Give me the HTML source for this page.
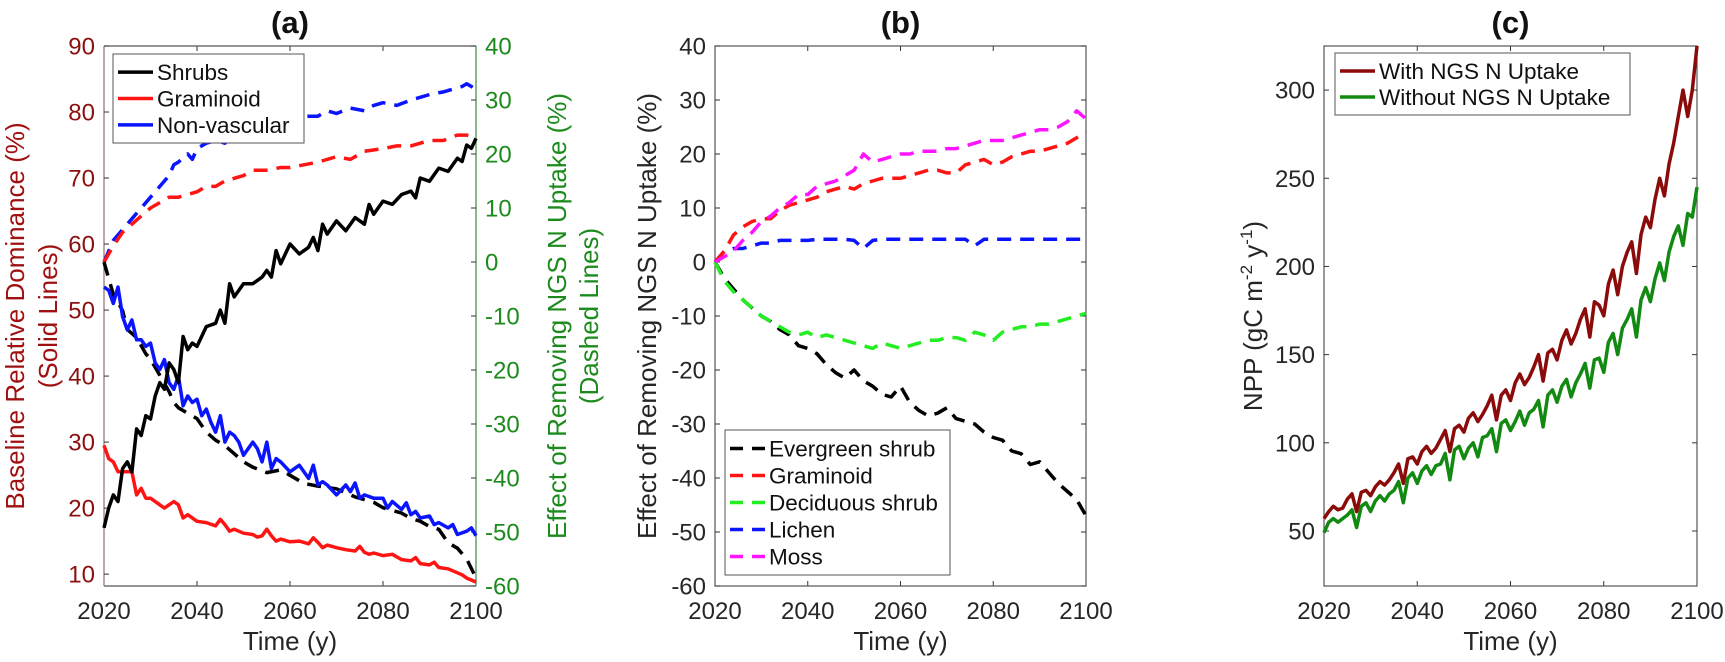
<!DOCTYPE html>
<html><head><meta charset="utf-8">
<style>
html,body{margin:0;padding:0;background:#fff;}
svg{display:block;font-family:"Liberation Sans",Arial,sans-serif;}
</style></head>
<body>
<svg id="fig" width="1725" height="662" viewBox="0 0 1725 662" xmlns="http://www.w3.org/2000/svg"></svg>
<script>
// ---------- data ----------
const xTicks = [2020, 2040, 2060, 2080, 2100];
const aLeftTicks = [10, 20, 30, 40, 50, 60, 70, 80, 90];
const pctTicks = [-60, -50, -40, -30, -20, -10, 0, 10, 20, 30, 40];
const cTicks = [50, 100, 150, 200, 250, 300];

// panel a solid (left axis)
const shrubsYears = [2020,2021,2022,2023,2024,2025,2026,2027,2028,2029,2030,2031,2032,2033,2034,2035,2036,2037,2038,2039,2040,2042,2044,2045,2046,2047,2048,2050,2052,2054,2055,2056,2057,2058,2060,2062,2064,2065,2066,2067,2068,2070,2072,2074,2076,2077,2078,2080,2082,2084,2086,2087,2088,2090,2092,2094,2096,2097,2098,2099,2100];
const shrubsVals = [17,20,22,21,26,27,25.5,32,31,34,33.5,37,39,38,42,41,39,46,44,45,44.5,47.5,48,50,48,54,52,54,54,55,56,55,59,57,60,58.5,59.5,61,59,63,61.5,63.5,62,64,63,66,64.5,66.5,66,67.5,68,67,70,69.5,71.5,71,73,72.5,75,74.5,76];
const gramYears = [2020,2021,2022,2023,2024,2025,2026,2027,2028,2029,2030,2032,2033,2034,2035,2036,2037,2038,2040,2042,2044,2045,2046,2047,2048,2050,2052,2053,2054,2055,2056,2057,2058,2060,2062,2064,2065,2066,2067,2068,2070,2072,2074,2075,2076,2077,2078,2080,2082,2084,2086,2087,2088,2090,2091,2092,2094,2096,2097,2098,2100];
const gramVals = [29.5,27.5,27,25.5,25.5,25.5,25.5,22,23,21.5,21.5,20.5,20,20.5,21,20.5,18.5,19,18,17.8,17.3,18.3,17.5,16.5,16.8,16.2,16,15.6,15.8,16.8,15.8,15,15.3,14.9,15,14.6,15.5,14.8,14,14.4,14,13.7,13.5,14.2,13.3,13,13.2,12.8,13,12.2,12,12.5,11.6,11.4,11.8,11,10.8,10.2,9.9,9.4,8.8];
const nvYears = [2020,2021,2022,2023,2024,2025,2026,2027,2028,2029,2030,2031,2032,2033,2034,2035,2036,2037,2038,2039,2040,2041,2042,2043,2044,2045,2046,2047,2048,2049,2050,2052,2053,2054,2055,2056,2057,2058,2060,2062,2064,2065,2066,2067,2068,2070,2072,2073,2074,2075,2076,2078,2080,2081,2082,2084,2085,2086,2087,2088,2090,2091,2092,2094,2095,2096,2098,2099,2100];
const nvVals = [53.5,53,51,53.5,49,47,48.5,45.5,45.5,44.5,45,42,41,42.5,39,38,40,35.5,37,36,36.5,34,35,33,31.5,34,30,31.5,31,30,28,30,29,27,30,26,27.5,27,25.5,26.5,24.5,26.5,23.5,24,23.5,22,23.5,22.5,23.8,21.5,22,21.5,21.5,20,21,19.8,20.8,19,19.5,18.5,18.8,17.5,17.8,17,17.5,16,16.5,17,15.8];

// panel a dashed (right axis, %)
const aShrubDashYears = [2020,2022,2024,2025,2027,2029,2030,2032,2034,2035,2036,2038,2040,2042,2044,2046,2048,2050,2052,2055,2058,2060,2063,2066,2070,2074,2078,2080,2084,2086,2088,2090,2092,2094,2096,2098,2100];
const aShrubDashVals = [0,-6,-9,-12.5,-14,-17,-18,-21,-24,-26,-27,-28,-29,-31.5,-33,-34,-35.5,-37,-38,-39,-38.5,-39.5,-41,-41.5,-42,-43.5,-44.5,-45.5,-46.5,-47.5,-48,-49,-49.5,-52,-53,-55,-58.5];
const aGramDashYears = [2020,2022,2024,2026,2028,2030,2032,2034,2036,2038,2040,2042,2044,2046,2048,2050,2052,2055,2058,2060,2063,2066,2070,2073,2076,2080,2083,2086,2090,2093,2096,2098,2100];
const aGramDashVals = [0,3,5.5,7,8.5,10,11,12,12,12.5,13,14,14,15,15.5,16,17,17,17.5,17.5,18,18.5,19.5,19,20.5,21,21.5,21.5,22.5,22.5,23.5,23.5,23];
const aNvDashYears = [2020,2022,2024,2026,2028,2030,2032,2034,2035,2036,2038,2039,2040,2042,2044,2046,2048,2050,2052,2055,2058,2060,2063,2066,2068,2070,2073,2076,2078,2080,2083,2086,2088,2090,2093,2095,2097,2098,2100];
const aNvDashVals = [0,4,6,8,10,12,14,16,18,18.5,20,19,21,22,22.5,22,23.5,24,25,25.5,26,26.5,27,27,28,27.5,28.5,28,29,29.5,29,30,30.5,31,31.5,32,32.5,33,32];

// panel b (%)
const bYears = [2020,2022,2024,2026,2028,2030,2032,2034,2036,2038,2040,2042,2044,2046,2048,2050,2052,2054,2056,2058,2060,2062,2064,2066,2068,2070,2072,2074,2076,2078,2080,2082,2084,2086,2088,2090,2092,2094,2096,2098,2100];
const evergreenVals = [0,-3,-5,-7,-8.5,-10,-11,-12.5,-13.5,-15.5,-16,-17,-19,-20.5,-21.5,-20,-22,-23,-24.5,-25,-23,-26,-27.5,-28.5,-28,-27,-29,-29.5,-30,-31.5,-32.5,-33,-35,-35.5,-37.5,-37,-39,-41,-42.5,-44,-47];
const graminoidVals = [0,2,5,6.5,7.5,8,8,9.5,10.5,11,11.5,12,13,13.5,14,13.5,14.5,15,15.5,15.5,15.5,16,16.5,17,17,16.5,16.5,18,18.5,19,18,18.5,19.5,20,20.5,20.5,21,21.5,22,23,24];
const deciduousVals = [0,-3.5,-5.5,-7,-8.5,-10,-11,-12,-13,-13.5,-13,-14,-13.5,-14,-14.5,-15,-15.5,-16,-15,-15.5,-16,-15.5,-15,-14.5,-14.5,-14,-14,-14.5,-13,-13.5,-14.5,-13,-12.5,-12,-12,-11.5,-11.5,-11,-10.5,-10,-9.5];
const lichenVals = [0,2,2.5,2.5,3,3.5,3.5,4,4,4,4,4.2,4.2,4.2,4.2,4,2.5,4,4.2,4.2,4.2,4.2,4.2,4.2,4.2,4.2,4.2,4.2,3,4.2,4.2,4.2,4.2,4.2,4.2,4.2,4.2,4.2,4.2,4.2,4.2];
const mossVals = [0,1,2,4,5.5,7.5,8.5,10,11,12.5,12.5,14,14.5,15,16,17,20,18.5,19,19.5,20,20,20.5,20.5,20.5,21,21,21.5,22,22.5,22.5,22.5,23,23.5,24,24.5,24.5,25,26,28,26.5];

// panel c (NPP)
const cYears = [2020,2021,2022,2023,2024,2025,2026,2027,2028,2029,2030,2031,2032,2033,2034,2035,2036,2037,2038,2039,2040,2041,2042,2043,2044,2045,2046,2047,2048,2049,2050,2051,2052,2053,2054,2055,2056,2057,2058,2059,2060,2061,2062,2063,2064,2065,2066,2067,2068,2069,2070,2071,2072,2073,2074,2075,2076,2077,2078,2079,2080,2081,2082,2083,2084,2085,2086,2087,2088,2089,2090,2091,2092,2093,2094,2095,2096,2097,2098,2099,2100];
const withVals = [57,61,64,62,63,68,71,61,72,73,70,75,78,76,79,83,88,77,91,92,88,95,98,94,97,102,107,95,108,110,106,114,117,112,116,121,127,113,127,130,124,134,139,133,137,143,150,135,151,153,147,158,164,156,162,170,176,160,180,178,172,190,198,184,200,208,214,196,218,228,222,238,250,240,258,270,285,300,285,300,325];
const withoutVals = [49,55,57,55,57,59,62,52,64,66,61,67,70,67,71,73,78,66,80,83,77,84,87,82,87,88,94,79,96,98,91,97,100,92,103,104,108,95,111,113,107,112,118,110,117,119,124,109,127,130,123,132,136,126,134,139,145,131,147,148,140,157,162,150,165,170,176,160,181,188,180,193,202,192,208,217,223,212,230,228,245];

// ---------- drawing ----------
const NS = "http://www.w3.org/2000/svg";
const svg = document.getElementById('fig');
function mk(tag, attrs, parent){
  const e = document.createElementNS(NS, tag);
  for (const k in attrs) e.setAttribute(k, attrs[k]);
  (parent||svg).appendChild(e);
  return e;
}
function txt(s, attrs, parent){ const t = mk('text', attrs, parent); t.textContent = s; return t; }

const TOP = 46, BOT = 586;
function linScale(d0, d1, r0, r1){ return v => r0 + (v - d0) * (r1 - r0) / (d1 - d0); }

function drawSeries(g, xs, ys, xS, yS, color, dashed){
  let d = '';
  for (let i = 0; i < xs.length; i++) d += (i ? 'L' : 'M') + xS(xs[i]).toFixed(1) + ',' + yS(ys[i]).toFixed(1);
  return mk('path', {d: d, fill: 'none', stroke: color, 'stroke-width': 3.5, 'stroke-linejoin': 'round', 'stroke-dasharray': dashed ? '14,9' : 'none'}, g);
}

function panel(id, L, R, title){
  const g = mk('g', {});
  
  
  const xS = linScale(2020, 2100, L, R);
  const t = txt(title, {x: (L+R)/2, y: 33, 'text-anchor': 'middle', 'font-size': 31, 'font-weight': 'bold', fill: '#111'}, g);
  
  
  const xt = mk('g', {}, g);
  
  
  xTicks.forEach(v => {
    const x = xS(v);
    mk('line', {x1: x, y1: BOT, x2: x, y2: BOT - 5, stroke: '#333', 'stroke-width': 1}, xt);
    mk('line', {x1: x, y1: TOP, x2: x, y2: TOP + 5, stroke: '#333', 'stroke-width': 1}, xt);
    txt(String(v), {x: x, y: 619, 'text-anchor': 'middle', 'font-size': 24, fill: '#262626'}, xt);
  });
  const xl = txt('Time (y)', {x: (L+R)/2, y: 650, 'text-anchor': 'middle', 'font-size': 26, fill: '#262626'}, g);
  
  
  return {g, xS};
}
function yTicks(g, ticks, yS, x, side, color){
  ticks.forEach(v => {
    const y = yS(v);
    const dir = side === 'left' ? 1 : -1;
    mk('line', {x1: x, y1: y, x2: x + 5*dir, y2: y, stroke: '#333', 'stroke-width': 1}, g);
    txt(String(v), {x: side === 'left' ? x - 9 : x + 9, y: y + 8.5, 'text-anchor': side === 'left' ? 'end' : 'start', 'font-size': 24, fill: color}, g);
  });
}
function legend(g, x, y, w, h, items, dashed){
  const lg = mk('g', {}, g);
  
  
  mk('rect', {x: x, y: y, width: w, height: h, fill: '#fff', stroke: '#555', 'stroke-width': 1}, lg);
  const step = (h - 10) / items.length;
  items.forEach((it, i) => {
    const cy = y + 5 + step * (i + 0.5);
    const e = mk('g', {}, lg);
    
    
    mk('line', {x1: x + 5, y1: cy, x2: x + 40, y2: cy, stroke: it[1], 'stroke-width': 3.5, 'stroke-dasharray': dashed ? '13,9' : 'none'}, e);
    txt(it[0], {x: x + 44, y: cy + 8, 'font-size': 22.5, fill: '#111'}, e);
  });
}

// Panel A
{
  const L = 104, R = 476;
  const {g, xS} = panel('a', L, R, '(a)');
  const yL = linScale(8.2, 90, BOT, TOP);
  const yR = linScale(-60, 40, BOT, TOP);
  const fr = mk('g', {}, g);
  mk('line', {x1: L, y1: TOP, x2: R, y2: TOP, stroke: '#555', 'stroke-width': 1.2}, fr);
  mk('line', {x1: L, y1: BOT, x2: R, y2: BOT, stroke: '#555', 'stroke-width': 1.2}, fr);
  mk('line', {x1: L, y1: TOP, x2: L, y2: BOT, stroke: '#9a6a6a', 'stroke-width': 1.2}, fr);
  mk('line', {x1: R, y1: TOP, x2: R, y2: BOT, stroke: '#3a8a3a', 'stroke-width': 1.2}, fr);
  const ly = mk('g', {}, g);  
  yTicks(ly, aLeftTicks, yL, L, 'left', '#8b1010');
  const ry = mk('g', {}, g);  
  yTicks(ry, pctTicks, yR, R, 'right', '#1d8a1d');
  const t1 = txt('Baseline Relative Dominance (%)', {x: 0, y: 0, 'text-anchor': 'middle', 'font-size': 26, fill: '#a01010', transform: 'translate(24,316) rotate(-90)'}, g);
   
  const t2 = txt('(Solid Lines)', {x: 0, y: 0, 'text-anchor': 'middle', 'font-size': 26, fill: '#a01010', transform: 'translate(57,316) rotate(-90)'}, g);
   
  const t3 = txt('Effect of Removing NGS N Uptake (%)', {x: 0, y: 0, 'text-anchor': 'middle', 'font-size': 26, fill: '#1d8a1d', transform: 'translate(566,316) rotate(-90)'}, g);
   
  const t4 = txt('(Dashed Lines)', {x: 0, y: 0, 'text-anchor': 'middle', 'font-size': 26, fill: '#1d8a1d', transform: 'translate(598,316) rotate(-90)'}, g);
   
  const s = mk('g', {}, g);  
  let p;
  p = drawSeries(s, aNvDashYears, aNvDashVals, xS, yR, '#0a14ff', true);  
  p = drawSeries(s, aGramDashYears, aGramDashVals, xS, yR, '#ff1414', true);  
  p = drawSeries(s, aShrubDashYears, aShrubDashVals, xS, yR, '#000', true);  
  p = drawSeries(s, gramYears, gramVals, xS, yL, '#ff1414', false);  
  p = drawSeries(s, nvYears, nvVals, xS, yL, '#0a14ff', false);  
  p = drawSeries(s, shrubsYears, shrubsVals, xS, yL, '#000', false);  
  legend(g, 113, 54, 191, 89, [['Shrubs', '#000'], ['Graminoid', '#ff1414'], ['Non-vascular', '#0a14ff']], false);
}

// Panel B
{
  const L = 715, R = 1086;
  const {g, xS} = panel('b', L, R, '(b)');
  const yS = linScale(-60, 40, BOT, TOP);
  mk('rect', {x: L, y: TOP, width: R - L, height: BOT - TOP, fill: 'none', stroke: '#555', 'stroke-width': 1.2}, g);
  const ly = mk('g', {}, g);  
  yTicks(ly, pctTicks, yS, L, 'left', '#262626');
  pctTicks.forEach(v => mk('line', {x1: R, y1: yS(v), x2: R - 5, y2: yS(v), stroke: '#333', 'stroke-width': 1}, ly));
  const t = txt('Effect of Removing NGS N Uptake (%)', {x: 0, y: 0, 'text-anchor': 'middle', 'font-size': 26, fill: '#262626', transform: 'translate(656,316) rotate(-90)'}, g);
   
  const s = mk('g', {}, g);  
  let p;
  p = drawSeries(s, bYears, lichenVals, xS, yS, '#0a14ff', true);  
  p = drawSeries(s, bYears, evergreenVals, xS, yS, '#000', true);  
  p = drawSeries(s, bYears, deciduousVals, xS, yS, '#22ee22', true);  
  p = drawSeries(s, bYears, graminoidVals, xS, yS, '#ff1414', true);  
  p = drawSeries(s, bYears, mossVals, xS, yS, '#ff14ff', true);  
  legend(g, 725, 430, 225, 145, [['Evergreen shrub', '#000'], ['Graminoid', '#ff1414'], ['Deciduous shrub', '#22ee22'], ['Lichen', '#0a14ff'], ['Moss', '#ff14ff']], true);
}

// Panel C
{
  const L = 1324, R = 1697;
  const {g, xS} = panel('c', L, R, '(c)');
  const yS = linScale(18.8, 325, BOT, TOP);
  mk('rect', {x: L, y: TOP, width: R - L, height: BOT - TOP, fill: 'none', stroke: '#555', 'stroke-width': 1.2}, g);
  const ly = mk('g', {}, g);  
  yTicks(ly, cTicks, yS, L, 'left', '#262626');
  cTicks.forEach(v => mk('line', {x1: R, y1: yS(v), x2: R - 5, y2: yS(v), stroke: '#333', 'stroke-width': 1}, ly));
  const t = mk('text', {x: 0, y: 0, 'text-anchor': 'middle', 'font-size': 26, fill: '#262626', transform: 'translate(1262,316) rotate(-90)'}, g);
   
  t.appendChild(document.createTextNode('NPP (gC m'));
  const s1 = mk('tspan', {dy: -10, 'font-size': 17}, t); s1.textContent = '-2';
  const s2 = mk('tspan', {dy: 10}, t); s2.textContent = ' y';
  const s3 = mk('tspan', {dy: -10, 'font-size': 17}, t); s3.textContent = '-1';
  const s4 = mk('tspan', {dy: 10}, t); s4.textContent = ')';
  const s = mk('g', {}, g);  
  let p;
  p = drawSeries(s, cYears, withoutVals, xS, yS, '#128a12', false);  
  p = drawSeries(s, cYears, withVals, xS, yS, '#8b0a0a', false);  
  legend(g, 1335, 53, 295, 62, [['With NGS N Uptake', '#8b0a0a'], ['Without NGS N Uptake', '#128a12']], false);
}
</script>
</body></html>
